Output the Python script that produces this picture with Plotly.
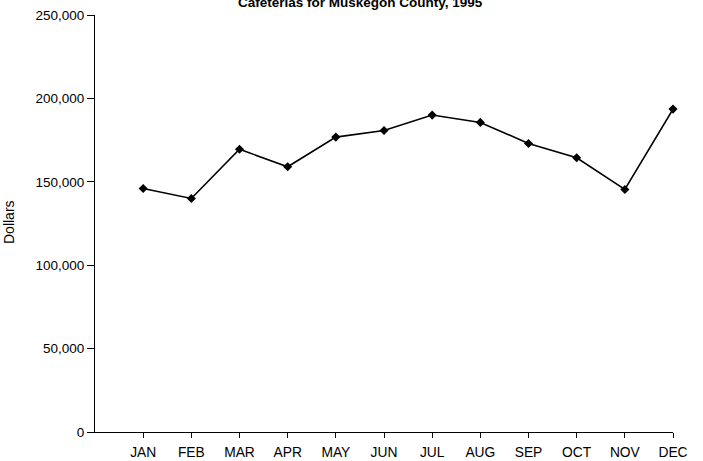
import plotly.graph_objects as go

months = ["JAN", "FEB", "MAR", "APR", "MAY", "JUN", "JUL", "AUG", "SEP", "OCT", "NOV", "DEC"]
sales = [146000, 140000, 169500, 159000, 176800, 180800, 190000, 185600, 173000, 164400, 145400, 193600]
y_ticks = [0, 50000, 100000, 150000, 200000, 250000]

W, H = 703, 461
L, R, T, B = 95, 30, 15, 29
pw = W - L - R
ph = H - T - B

fig = go.Figure()
fig.add_trace(go.Scatter(
    x=list(range(len(months))), y=sales, mode="lines+markers",
    line=dict(color="black", width=1.6),
    marker=dict(symbol="diamond", size=7, color="black"),
    showlegend=False, cliponaxis=False,
))

fig.update_layout(
    width=W, height=H,
    margin=dict(l=L, r=R, t=T, b=B, pad=0),
    paper_bgcolor="white", plot_bgcolor="white",
    font=dict(family="Liberation Sans, Arial, sans-serif", size=13, color="black"),
    xaxis=dict(
        range=[-1, len(months) - 1], tickvals=list(range(len(months))), ticktext=months,
        showline=True, linecolor="black", linewidth=1, ticks="outside", ticklen=5,
        tickcolor="black", showgrid=False, zeroline=False, tickfont=dict(size=13.8),
        automargin=False, ticklabelstandoff=2,
    ),
    yaxis=dict(
        range=[0, 250000], tickvals=y_ticks, tickformat=",",
        showline=True, linecolor="black", linewidth=1, ticks="outside", ticklen=7,
        tickcolor="black", showgrid=False, zeroline=False, tickfont=dict(size=13.5),
        automargin=False,
    ),
    annotations=[
        dict(text="<b>Cafeterias for Muskegon County, 1995</b>", xref="paper", yref="paper",
             x=(360 - L) / pw, y=1 + 3.5 / ph, xanchor="center", yanchor="bottom",
             showarrow=False, font=dict(size=13.5)),
        dict(text="Dollars", xref="paper", yref="paper", x=(9 - L) / pw, y=(H - B - 222) / ph,
             xanchor="center", yanchor="middle", textangle=-90, showarrow=False,
             font=dict(size=14)),
    ],
)

fig.write_html("out.html", config={"displayModeBar": False},
               post_script="document.body.style.margin='0';document.body.style.overflow='hidden';")
